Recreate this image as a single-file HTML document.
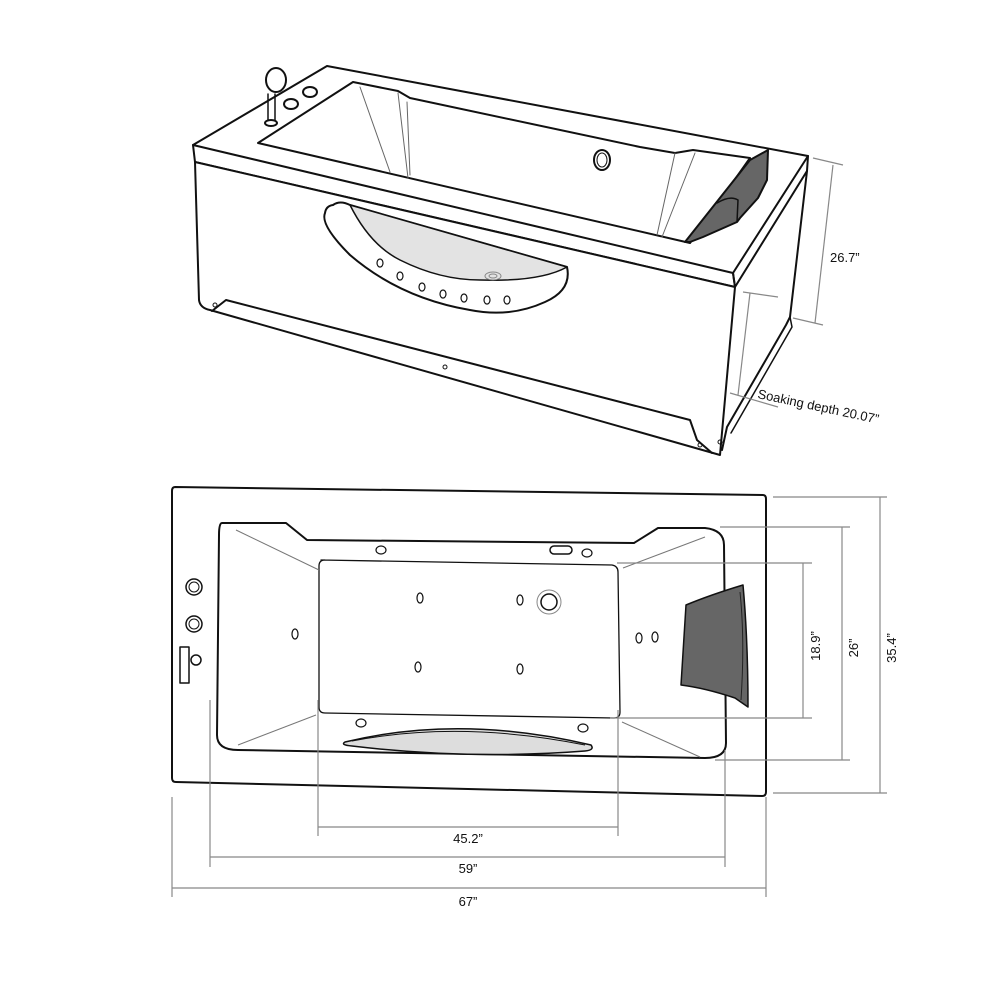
<!DOCTYPE html>
<html><head><meta charset="utf-8"><style>
html,body{margin:0;padding:0;background:#fff;}
svg{display:block}
text{font-family:"Liberation Sans",sans-serif;fill:#111;}
</style></head><body>
<svg width="1000" height="1000" viewBox="0 0 1000 1000" xmlns="http://www.w3.org/2000/svg">
<g fill="none" stroke="#111" stroke-width="2" stroke-linejoin="round" stroke-linecap="round">
<path d="M193,145 L327,66 L808,156 L733,273 Z" fill="#fff"/>
<path d="M193,145 L195,162 L735,287 L733,273"/>
<path d="M733,273 L735,287 L807,171 L808,156"/>
<path d="M195,162 L199,300 Q200,308 210,310 L217,312 L720,455 L735,287 Z" fill="#fff"/>
<path d="M212,311 L226,300 L690,420 L697,440 L712,453"/>
<path d="M807,171 L790,317 L786,325 L727,427 L722,450"/>
<path d="M790,317 L792,327 L731,433" stroke-width="1.5"/>
<path d="M258,143 L353,82 L398,91 L410,98 L640,147 L675,153 L693,150 L750,158 L690,243 Z" fill="#fff"/>
<g stroke="#666" stroke-width="1">
<line x1="360" y1="87" x2="390" y2="172"/>
<line x1="398" y1="93" x2="408" y2="178"/>
<line x1="407" y1="102" x2="410" y2="175"/>
<line x1="675" y1="153" x2="657" y2="235"/>
<line x1="695" y1="153" x2="662" y2="237"/>
</g>
<path d="M685,242 L750,160 L768,150 L767,180 L758,198 L740,218 L737,222 L703,237 L690,242 Z" fill="#666"/>
<path d="M717,203 Q730,195 738,200 L737,222" stroke-width="1.5"/>
<ellipse cx="602" cy="160" rx="8" ry="10"/>
<ellipse cx="602" cy="160" rx="5" ry="7" stroke-width="1"/>
<path d="M333,205 Q340,200 350,205 L567,267 Q572,290 545,302 Q510,318 470,310 Q400,298 350,255 Q320,225 325,213 Q326,206 333,205 Z" fill="#fff"/>
<path d="M350,205 Q370,245 400,260 Q440,280 480,280 Q540,282 567,267 L350,205 Z" fill="#e3e3e3" stroke-width="1.5"/>
<g stroke-width="1.2" fill="#fff">
<ellipse cx="380" cy="263" rx="3" ry="4"/><ellipse cx="400" cy="276" rx="3" ry="4"/>
<ellipse cx="422" cy="287" rx="3" ry="4"/><ellipse cx="443" cy="294" rx="3" ry="4"/>
<ellipse cx="464" cy="298" rx="3" ry="4"/><ellipse cx="487" cy="300" rx="3" ry="4"/>
<ellipse cx="507" cy="300" rx="3" ry="4"/>
</g>
<ellipse cx="493" cy="276" rx="8" ry="4" stroke="#888" stroke-width="1"/>
<ellipse cx="493" cy="276" rx="4" ry="2" stroke="#888" stroke-width="1"/>
<ellipse cx="276" cy="80" rx="10" ry="12" fill="#fff"/>
<path d="M268,94 L268,122 M275,94 L275,122" stroke-width="1.5"/>
<ellipse cx="271" cy="123" rx="6" ry="3" fill="#fff"/>
<ellipse cx="291" cy="104" rx="7" ry="5" fill="#fff"/>
<ellipse cx="310" cy="92" rx="7" ry="5" fill="#fff"/>
<g stroke-width="1"><circle cx="215" cy="305" r="2"/><circle cx="445" cy="367" r="2"/><circle cx="700" cy="445" r="2"/><circle cx="720" cy="442" r="2"/></g>
</g>
<g stroke="#888" stroke-width="1.2" fill="none">
<line x1="813" y1="158" x2="843" y2="165"/>
<line x1="793" y1="318" x2="823" y2="325"/>
<line x1="833" y1="165" x2="815" y2="323"/>
<line x1="743" y1="292" x2="778" y2="297"/>
<line x1="730" y1="393" x2="778" y2="407"/>
<line x1="750" y1="293" x2="738" y2="395"/>
</g>
<text x="830" y="262" font-size="13">26.7”</text>
<text x="757" y="398" font-size="13" transform="rotate(12 757 398)">Soaking depth 20.07”</text>

<g fill="none" stroke="#111" stroke-width="2" stroke-linejoin="round">
<path d="M175,487 L763,495 Q766,495 766,499 L766,792 Q766,796 762,796 L176,782 Q172,782 172,778 L172,491 Q172,487 175,487 Z" fill="#fff"/>
<path d="M222,523 L286,523 L307,540 L634,543 L658,528 L705,528 Q724,530 724,545 L726,743 Q726,758 705,758 L238,750 Q217,750 217,735 L219,535 Q219,523 222,523 Z"/>
<path d="M321,560 L612,565 Q618,566 618,572 L620,712 Q620,718 614,718 L325,713 Q319,713 319,707 L319,566 Q319,560 325,560 Z" stroke-width="1.3"/>
<g stroke="#777" stroke-width="1">
<line x1="236" y1="530" x2="319" y2="570"/>
<line x1="623" y1="568" x2="705" y2="537"/>
<line x1="238" y1="745" x2="316" y2="715"/>
<line x1="622" y1="722" x2="700" y2="757"/>
</g>
<path d="M686,605 Q710,595 743,585 Q748,640 748,707 L735,698 Q705,688 681,685 Z" fill="#666" stroke-width="1.5"/>
<path d="M740,592 Q745,640 741,700" stroke="#222" stroke-width="1"/>
<path d="M345,742 Q460,714 591,745 Q595,750 585,751 Q470,760 352,746 Q340,745 345,742 Z" fill="#ddd" stroke-width="1.5"/>
<path d="M352,741 Q460,720 585,745" stroke-width="1"/>
<g stroke-width="1.2" fill="#fff">
<ellipse cx="381" cy="550" rx="5" ry="4"/><ellipse cx="587" cy="553" rx="5" ry="4"/>
<ellipse cx="420" cy="598" rx="3" ry="5"/><ellipse cx="520" cy="600" rx="3" ry="5"/>
<ellipse cx="295" cy="634" rx="3" ry="5"/><ellipse cx="418" cy="667" rx="3" ry="5"/>
<ellipse cx="520" cy="669" rx="3" ry="5"/><ellipse cx="639" cy="638" rx="3" ry="5"/>
<ellipse cx="655" cy="637" rx="3" ry="5"/><ellipse cx="361" cy="723" rx="5" ry="4"/>
<ellipse cx="583" cy="728" rx="5" ry="4"/>
</g>
<circle cx="549" cy="602" r="12" stroke="#888" stroke-width="1"/>
<circle cx="549" cy="602" r="8" stroke-width="1.5"/>
<rect x="550" y="546" width="22" height="8" rx="4" stroke-width="1.5"/>
<circle cx="194" cy="587" r="8" stroke-width="1.5"/><circle cx="194" cy="587" r="5" stroke-width="1"/>
<circle cx="194" cy="624" r="8" stroke-width="1.5"/><circle cx="194" cy="624" r="5" stroke-width="1"/>
<rect x="180" y="647" width="9" height="36" stroke-width="1.5"/>
<circle cx="196" cy="660" r="5" stroke-width="1.5"/>
</g>
<g stroke="#888" stroke-width="1.2" fill="none">
<line x1="172" y1="797" x2="172" y2="897"/>
<line x1="210" y1="700" x2="210" y2="867"/>
<line x1="318" y1="700" x2="318" y2="836"/>
<line x1="618" y1="710" x2="618" y2="836"/>
<line x1="725" y1="750" x2="725" y2="867"/>
<line x1="766" y1="797" x2="766" y2="897"/>
<line x1="318" y1="827" x2="618" y2="827"/>
<line x1="210" y1="857" x2="725" y2="857"/>
<line x1="172" y1="888" x2="766" y2="888"/>
<line x1="773" y1="497" x2="887" y2="497"/>
<line x1="720" y1="527" x2="850" y2="527"/>
<line x1="617" y1="563" x2="812" y2="563"/>
<line x1="610" y1="718" x2="812" y2="718"/>
<line x1="715" y1="760" x2="850" y2="760"/>
<line x1="773" y1="793" x2="887" y2="793"/>
<line x1="803" y1="563" x2="803" y2="718"/>
<line x1="842" y1="527" x2="842" y2="760"/>
<line x1="880" y1="497" x2="880" y2="793"/>
</g>
<g font-size="13" text-anchor="middle">
<text x="468" y="843">45.2”</text>
<text x="468" y="873">59”</text>
<text x="468" y="906">67”</text>
<text x="0" y="0" transform="translate(820 646) rotate(-90)">18.9”</text>
<text x="0" y="0" transform="translate(858 648) rotate(-90)">26”</text>
<text x="0" y="0" transform="translate(896 648) rotate(-90)">35.4”</text>
</g>
</svg>
</body></html>
